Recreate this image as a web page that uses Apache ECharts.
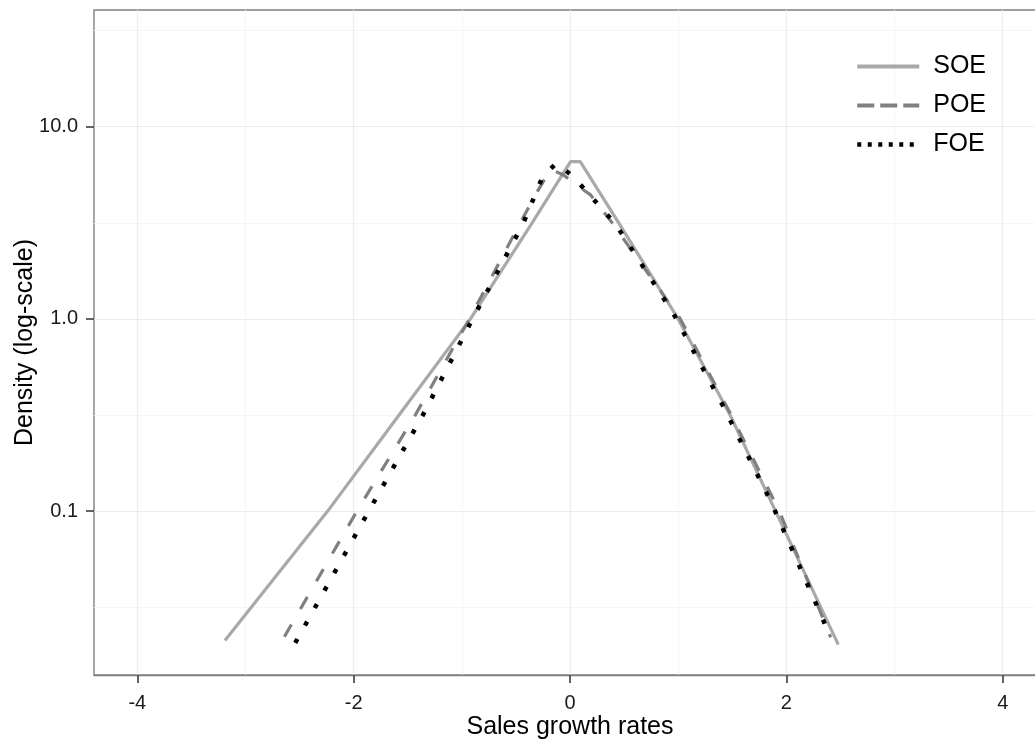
<!DOCTYPE html>
<html>
<head>
<meta charset="utf-8">
<script src="https://cdn.jsdelivr.net/npm/echarts@6/dist/echarts.min.js"></script>
<style>
html, body { margin: 0; padding: 0; background: #fff; }
#chart { width: 1035px; height: 743px; }
</style>
</head>
<body>
<div id="chart"></div>
<script>
// ---- data ----
const seriesNames = ['SOE', 'POE', 'FOE'];

const soeX = [-3.19, -2.24, -1.58, -0.92, -0.35, 0.005, 0.095, 0.45, 1.00, 1.48, 1.90, 2.48];
const soeY = [0.0212, 0.100, 0.316, 1.00, 3.16, 6.58, 6.58, 3.16, 1.00, 0.316, 0.100, 0.0202];

const poeX = [-2.64, -1.97, -1.43, -0.93, -0.46, -0.32, -0.18, -0.06, 0.08, 0.19, 0.39, 1.02, 1.49, 1.935, 2.41];
const poeY = [0.0222, 0.100, 0.316, 1.00, 3.16, 4.42, 6.01, 5.61, 4.88, 4.42, 3.16, 1.00, 0.316, 0.100, 0.0220];

const foeX = [-2.54, -1.86, -1.36, -0.90, -0.43, -0.25, -0.125, 0.03, 0.42, 0.95, 1.415, 1.86, 2.34, 2.40];
const foeY = [0.0206, 0.100, 0.316, 1.00, 3.16, 5.55, 6.46, 5.50, 3.12, 1.08, 0.352, 0.111, 0.0272, 0.0219];

const xTicks = [-4, -2, 0, 2, 4];
const xMinorTicks = [-3, -1, 1, 3];
const yTicks = [0.1, 1, 10];
const yMinorTicks = [0.031623, 0.31623, 3.1623, 31.623];

const xMin = -4.4, xMax = 4.4;
const yMin = 0.01403, yMax = 40.5;

function pairs(xs, ys) { return xs.map((x, i) => [x, ys[i]]); }

const FONT = '"Liberation Sans", Arial, sans-serif';

const chart = echarts.init(document.getElementById('chart'), null, { renderer: 'canvas' });

chart.setOption({
  animation: false,
  backgroundColor: '#ffffff',
  textStyle: { fontFamily: FONT },
  grid: {
    left: 94, top: 10, width: 952, height: 665,
    outerBoundsMode: 'none',
    show: true, borderColor: '#808080', borderWidth: 1.4, backgroundColor: 'transparent',
    containLabel: false
  },
  legend: {
    orient: 'vertical',
    left: 850, top: 49,
    itemWidth: 62, itemHeight: 26, itemGap: 14,
    itemStyle: { opacity: 0, borderWidth: 0 },
    textStyle: { fontFamily: FONT, fontSize: 25, color: '#000', padding: [0, 0, 0, 9] },
    data: [
      { name: 'SOE', lineStyle: { width: 4, type: 'solid' } },
      { name: 'POE', lineStyle: { width: 4, type: [17, 6] } },
      { name: 'FOE', lineStyle: { width: 4.5, type: [4, 6.5] } }
    ]
  },
  xAxis: [
    {
      type: 'value', min: xMin, max: xMax, position: 'bottom',
      name: 'Sales growth rates', nameLocation: 'middle', nameGap: 40, nameMoveOverlap: false,
      nameTextStyle: { fontFamily: FONT, fontSize: 25, color: '#000' },
      axisLine: { show: true, onZero: false, lineStyle: { color: '#808080', width: 1.4 } },
      axisTick: { show: true, inside: false, interval: 0, length: 8, customValues: xTicks, lineStyle: { color: '#333', width: 1.5 } },
      axisLabel: { customValues: xTicks, interval: 0, fontFamily: FONT, fontSize: 20, color: '#1a1a1a', margin: 18 },
      splitLine: { show: true, interval: 0, lineStyle: { color: '#ececec', width: 1.2 } }
    },
    {
      type: 'value', min: xMin, max: xMax, position: 'bottom', offset: 0,
      axisLine: { show: false, onZero: false },
      axisTick: { show: true, inside: false, length: 8, customValues: xTicks, lineStyle: { color: '#333', width: 1.5 } },
      axisLabel: { show: false, customValues: xTicks },
      splitLine: { show: false }
    },
    {
      type: 'value', min: xMin, max: xMax, position: 'top',
      axisLine: { show: false, onZero: false },
      axisTick: { show: false, interval: 0, customValues: xMinorTicks },
      axisLabel: { show: false, customValues: xMinorTicks },
      splitLine: { show: true, interval: 0, lineStyle: { color: '#f6f6f6', width: 1 } }
    }
  ],
  yAxis: [
    {
      type: 'log', logBase: 10, min: yMin, max: yMax, position: 'left',
      name: 'Density (log-scale)', nameLocation: 'middle', nameGap: 56, nameRotate: 90, nameMoveOverlap: false,
      nameTextStyle: { fontFamily: FONT, fontSize: 25, color: '#000' },
      axisLine: { show: false, onZero: false },
      axisTick: { show: true, interval: 0, length: 8, customValues: yTicks, lineStyle: { color: '#333', width: 1.5 } },
      axisLabel: {
        customValues: yTicks, fontFamily: FONT, fontSize: 20, color: '#1a1a1a', margin: 16,
        formatter: v => Number(v).toFixed(1)
      },
      splitLine: { show: true, lineStyle: { color: '#ececec', width: 1.2 } }
    },
    {
      type: 'log', logBase: 10, min: yMin, max: yMax, position: 'right',
      axisLine: { show: false, onZero: false },
      axisTick: { show: false, customValues: yMinorTicks },
      axisLabel: { show: false, customValues: yMinorTicks },
      splitLine: { show: true, lineStyle: { color: '#f6f6f6', width: 1 } }
    }
  ],
  series: [
    {
      name: 'SOE', type: 'line', data: pairs(soeX, soeY),
      xAxisIndex: 0, yAxisIndex: 0,
      symbol: 'none', showSymbol: false, smooth: false,
      lineStyle: { color: '#a9a9a9', width: 3.2, type: 'solid' },
      itemStyle: { color: '#a9a9a9' }
    },
    {
      name: 'POE', type: 'line', data: pairs(poeX, poeY),
      xAxisIndex: 0, yAxisIndex: 0,
      symbol: 'none', showSymbol: false, smooth: false,
      lineStyle: { color: '#808080', width: 3.2, type: [14, 18], cap: 'butt' },
      itemStyle: { color: '#808080' }
    },
    {
      name: 'FOE', type: 'line', data: pairs(foeX, foeY),
      xAxisIndex: 0, yAxisIndex: 0,
      symbol: 'none', showSymbol: false, smooth: false,
      lineStyle: { color: '#000000', width: 4.5, type: [4.5, 15.5], cap: 'butt' },
      itemStyle: { color: '#000000' }
    }
  ]
});
</script>
</body>
</html>
